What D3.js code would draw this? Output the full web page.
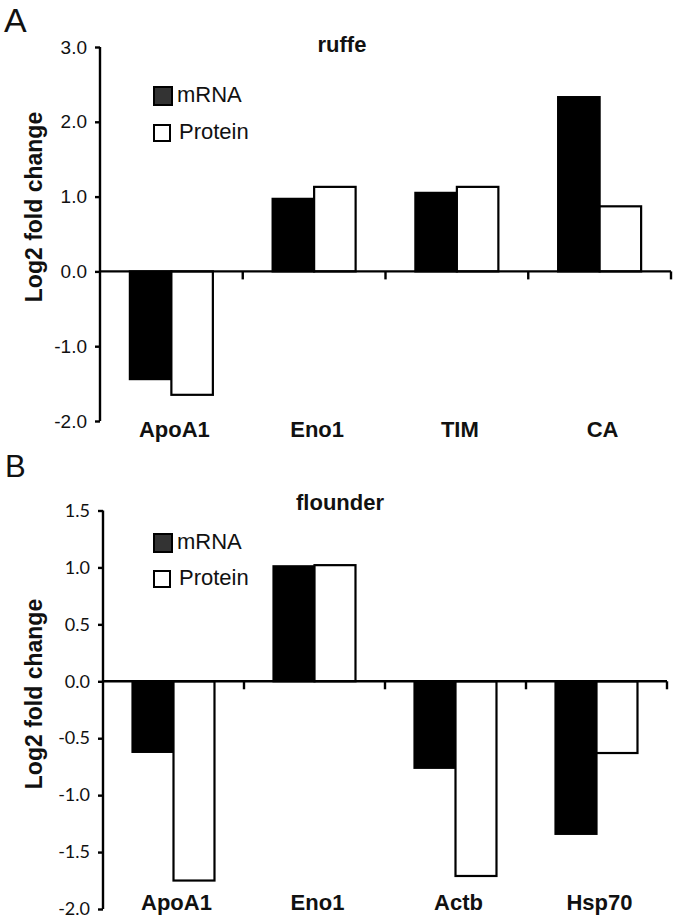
<!DOCTYPE html>
<html>
<head>
<meta charset="utf-8">
<script src="https://cdn.jsdelivr.net/npm/d3@7"></script>
<style>
  html, body { margin: 0; padding: 0; background: #fff; }
  svg { display: block; }
</style>
</head>
<body>
<svg id="chart" width="676" height="919"></svg>
<script>
// ---------- data ----------
const series = ["mRNA", "Protein"];

const ruffeGenes = ["ApoA1", "Eno1", "TIM", "CA"];
const ruffeMRNA = [-1.44, 0.97, 1.05, 2.33];
const ruffeProtein = [-1.65, 1.13, 1.13, 0.87];
const ruffeTicks = [-2.0, -1.0, 0.0, 1.0, 2.0, 3.0];

const flounderGenes = ["ApoA1", "Eno1", "Actb", "Hsp70"];
const flounderMRNA = [-0.62, 1.01, -0.76, -1.34];
const flounderProtein = [-1.75, 1.02, -1.71, -0.63];
const flounderTicks = [-2.0, -1.5, -1.0, -0.5, 0.0, 0.5, 1.0, 1.5];

// ---------- drawing ----------
const svg = d3.select("#chart");
const fmt = d => d.toFixed(1);
const fillFor = { mRNA: "#000", Protein: "#fff" };
const legendFill = { mRNA: "#333", Protein: "#fff" };

function drawPanel(p) {
  const g = svg.append("g");

  const y = d3.scaleLinear().domain([p.ticks[0], p.ticks[p.ticks.length - 1]])
    .range([p.bottom, p.top]);
  const x = d3.scaleBand().domain(p.genes).range([p.left, p.right])
    .paddingInner(0).paddingOuter(0);
  const xs = d3.scaleBand().domain(series).range([0, x.bandwidth()])
    .paddingInner(0).paddingOuter(0.72);

  const rows = p.genes.map((gname, i) => ({
    gene: gname,
    vals: [{ s: "mRNA", v: p.mrna[i] }, { s: "Protein", v: p.protein[i] }]
  }));

  // bars
  const grp = g.selectAll("g.gene").data(rows).join("g")
    .attr("transform", d => `translate(${x(d.gene)},0)`);
  grp.selectAll("rect").data(d => d.vals).join("rect")
    .attr("x", d => xs(d.s))
    .attr("width", xs.bandwidth())
    .attr("y", d => Math.min(y(d.v), y(0)))
    .attr("height", d => Math.abs(y(d.v) - y(0)))
    .attr("fill", d => fillFor[d.s])
    .attr("stroke", "#000")
    .attr("stroke-width", 2.2);

  // y axis
  const ya = g.append("g")
    .attr("transform", `translate(${p.left},0)`)
    .call(d3.axisLeft(y).tickValues(p.ticks).tickFormat(fmt).tickSize(5).tickPadding(8));
  ya.select(".domain").attr("stroke", "#000").attr("stroke-width", 2.4)
    .attr("d", `M0,${y(p.ticks[0])}V${y(p.ticks[p.ticks.length - 1])}`);
  ya.selectAll(".tick line").attr("stroke", "#000").attr("stroke-width", 2.4);
  ya.selectAll(".tick text")
    .attr("font-family", p.tickFont)
    .attr("font-size", p.tickSize)
    .attr("fill", "#111");

  // x axis at zero
  g.append("line")
    .attr("x1", p.left).attr("x2", p.right)
    .attr("y1", y(0)).attr("y2", y(0))
    .attr("stroke", "#000").attr("stroke-width", 2.4);
  g.selectAll("line.xtick").data(p.genes).join("line")
    .attr("class", "xtick")
    .attr("x1", d => x(d) + x.bandwidth()).attr("x2", d => x(d) + x.bandwidth())
    .attr("y1", y(0)).attr("y2", y(0) + 8)
    .attr("stroke", "#000").attr("stroke-width", 2.4);

  // category labels
  g.selectAll("text.cat").data(p.genes).join("text")
    .attr("class", "cat")
    .attr("x", d => x(d) + x.bandwidth() / 2 + 3)
    .attr("y", p.catY)
    .attr("text-anchor", "middle")
    .attr("font-family", "Liberation Sans, Arial, sans-serif")
    .attr("font-weight", "bold")
    .attr("font-size", 22)
    .attr("fill", "#111")
    .text(d => d);

  // title
  g.append("text")
    .attr("x", p.titleX).attr("y", p.titleY)
    .attr("text-anchor", "middle")
    .attr("font-family", "Liberation Sans, Arial, sans-serif")
    .attr("font-weight", "bold")
    .attr("font-size", 22)
    .attr("fill", "#111")
    .text(p.title);

  // y label
  g.append("text")
    .attr("transform", `translate(${p.ylabX},${p.ylabY}) rotate(-90)`)
    .attr("text-anchor", "middle")
    .attr("font-family", "Liberation Sans, Arial, sans-serif")
    .attr("font-weight", "bold")
    .attr("font-size", 23)
    .attr("fill", "#111")
    .text("Log2 fold change");

  // panel letter
  g.append("text")
    .attr("x", p.letterX).attr("y", p.letterY)
    .attr("font-family", "Liberation Sans, Arial, sans-serif")
    .attr("font-size", p.letterSize)
    .attr("fill", "#111")
    .text(p.letter);

  // legend
  const lg = g.selectAll("g.leg").data(series).join("g")
    .attr("class", "leg")
    .attr("transform", (d, i) => `translate(154,${p.legY[i]})`);
  lg.append("rect")
    .attr("x", 0).attr("y", (d, i) => i === 0 ? -15 : -14)
    .attr("width", (d, i) => i === 0 ? 18 : 16)
    .attr("height", (d, i) => i === 0 ? 18 : 16)
    .attr("fill", d => legendFill[d])
    .attr("stroke", "#000").attr("stroke-width", 2);
  lg.append("text")
    .attr("x", (d, i) => i === 0 ? 23 : 25).attr("y", 0)
    .attr("font-family", "Liberation Sans, Arial, sans-serif")
    .attr("font-size", 22)
    .attr("fill", "#111")
    .text(d => d);
}

drawPanel({
  genes: ruffeGenes, mrna: ruffeMRNA, protein: ruffeProtein, ticks: ruffeTicks,
  top: 47, bottom: 421, left: 100, right: 671,
  tickFont: "Liberation Sans, Arial, sans-serif", tickSize: 19,
  catY: 437, title: "ruffe", titleX: 342, titleY: 52,
  ylabX: 42, ylabY: 207,
  letter: "A", letterX: 4, letterY: 32, letterSize: 34,
  legY: [102, 139]
});

drawPanel({
  genes: flounderGenes, mrna: flounderMRNA, protein: flounderProtein, ticks: flounderTicks,
  top: 510.5, bottom: 909, left: 103, right: 667,
  tickFont: "Lato, Open Sans, sans-serif", tickSize: 18,
  catY: 910, title: "flounder", titleX: 340, titleY: 510,
  ylabX: 42, ylabY: 694,
  letter: "B", letterX: 5, letterY: 477, letterSize: 31,
  legY: [549, 585]
});
</script>
</body>
</html>
